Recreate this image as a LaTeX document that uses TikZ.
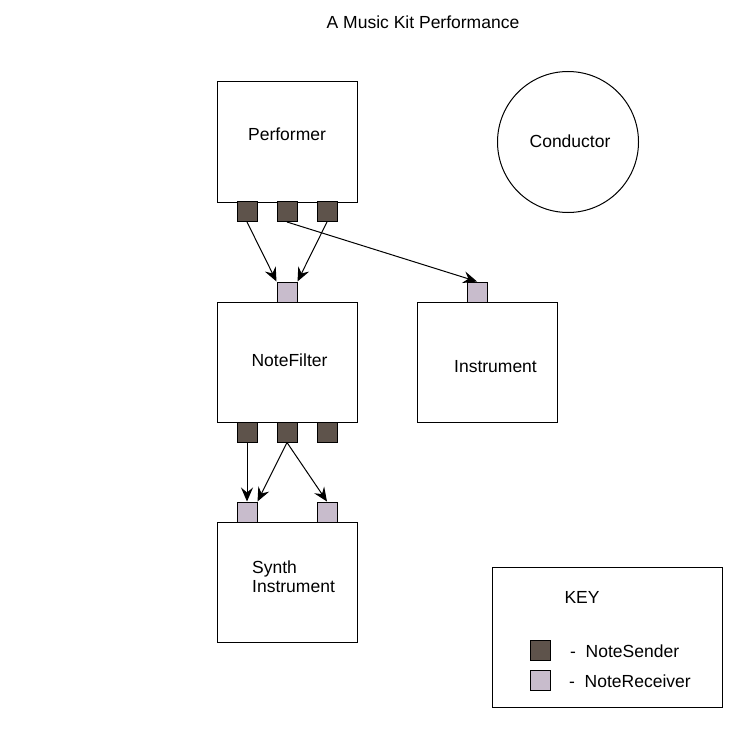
\documentclass[tikz,border=0pt]{standalone}
\usepackage{fontspec}
\setmainfont{Liberation Sans}
\usetikzlibrary{arrows.meta}
\definecolor{sendc}{HTML}{5E534B}
\definecolor{recvc}{HTML}{C8BCCC}
\begin{document}
\begin{tikzpicture}[x=1pt,y=-1pt,
  box/.style={draw, line width=1pt, minimum width=140pt, minimum height=120pt, inner sep=0pt},
  port/.style={draw, line width=1pt, minimum width=20pt, minimum height=20pt, inner sep=0pt},
  sender/.style={port, fill=sendc},
  receiver/.style={port, fill=recvc},
  txt/.style={font=\fontsize{17.5}{19}\selectfont, inner sep=0pt},
  conn/.style={line width=1pt, -{Stealth[length=14pt,width=12pt,inset=5pt]}}]
\useasboundingbox (0,0) rectangle (734,749);
\fill[white] (0,0) rectangle (734,749);
\node[txt] (title) at (423,22) {A Music Kit Performance};
% boxes
\node[box] (perf) at (287,142) {};
\node[txt] (perfl) at (287,134) {Performer};
\node[box] (filt) at (287,362) {};
\node[txt] (filtl) at (289.5,360) {NoteFilter};
\node[box] (inst) at (487,362) {};
\node[txt] (instl) at (495.5,367) {Instrument};
\node[box] (synth) at (287,582) {};
\node[txt, align=left, anchor=west] (synthl) at (252,576.5) {Synth\\Instrument};
\node[draw, line width=1pt, circle, minimum size=141pt, inner sep=0pt] (cond) at (568,142) {};
\node[txt] (condl) at (570,141) {Conductor};
% ports
\node[sender] (ps1) at (247,211.5) {};
\node[sender] (ps2) at (287,211.5) {};
\node[sender] (ps3) at (327,211.5) {};
\node[receiver] (fr) at (287,292) {};
\node[receiver] (ir) at (477,292) {};
\node[sender] (fs1) at (247,432) {};
\node[sender] (fs2) at (287,432) {};
\node[sender] (fs3) at (327,432) {};
\node[receiver] (sr1) at (247,512) {};
\node[receiver] (sr2) at (327,512) {};
% connectors
\draw[conn] (ps1.south) -- (fr.north west);
\draw[conn] (ps3.south) -- (fr.north east);
\draw[conn] (ps2.south) -- (ir.north);
\draw[conn] (fs1.south) -- (sr1.north);
\draw[conn] (fs2.south) -- (sr1.north east);
\draw[conn] (fs2.south) -- (sr2.north);
% key
\node[draw, line width=1pt, minimum width=230pt, minimum height=140pt, inner sep=0pt] (key) at (607,637) {};
\node[txt] (keyl) at (582,597) {KEY};
\node[sender] (ks) at (540,650) {};
\node[receiver] (kr) at (540,680) {};
\node[txt, anchor=west] (ksl) at (570,651) {-\ \ NoteSender};
\node[txt, anchor=west] (krl) at (569,681) {-\ \ NoteReceiver};
\end{tikzpicture}
\end{document}
